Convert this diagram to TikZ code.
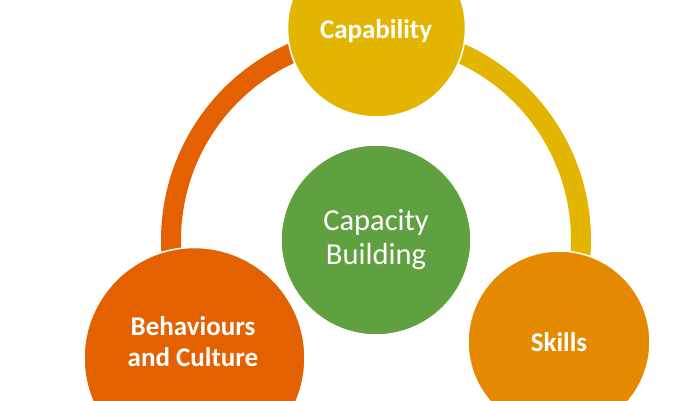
\documentclass[tikz,border=0pt]{standalone}
\usepackage{fontspec}
\setmainfont{Carlito}
\definecolor{capyellow}{HTML}{E4B500}
\definecolor{behorange}{HTML}{E36100}
\definecolor{skillorange}{HTML}{E58A00}
\definecolor{capgreen}{HTML}{5FA140}
\tikzset{
  bubble/.style={circle, draw=white, line width=1.5pt, inner sep=0pt, text=white, align=center},
  boldtext/.style={text=white, align=center, font=\bfseries\fontsize{27}{31}\selectfont},
  ringarc/.style={line width=20pt}
}
\begin{document}
\begin{tikzpicture}[x=1pt,y=1pt]
\useasboundingbox (0,0) rectangle (700,400);
\clip (0,0) rectangle (700,400);
\coordinate (ringc) at (376,160);
% ring arcs
\draw[ringarc, draw=behorange] (ringc) ++(188:205) arc[start angle=188, end angle=90, radius=205];
\draw[ringarc, draw=capyellow] (ringc) ++(90:205) arc[start angle=90, end angle=-8, radius=205];
% circles
\node[bubble, fill=capyellow, minimum size=178pt] (cap) at (376.5,372) {};
\node[bubble, fill=capgreen, minimum size=190pt, font=\fontsize{30.5}{34}\selectfont] (cb) at (376,160) {Capacity\\Building};
\node[bubble, fill=behorange, minimum size=221pt] (beh) at (194.5,42) {};
\node[bubble, fill=skillorange, minimum size=182pt] (sk) at (559,58) {};
% labels
\node[boldtext] (captxt) at (376,369) {Capability};
\node[boldtext] (behtxt) at (193,58) {Behaviours\\and Culture};
\node[boldtext] (sktxt) at (559,58) {Skills};
\end{tikzpicture}
\end{document}
